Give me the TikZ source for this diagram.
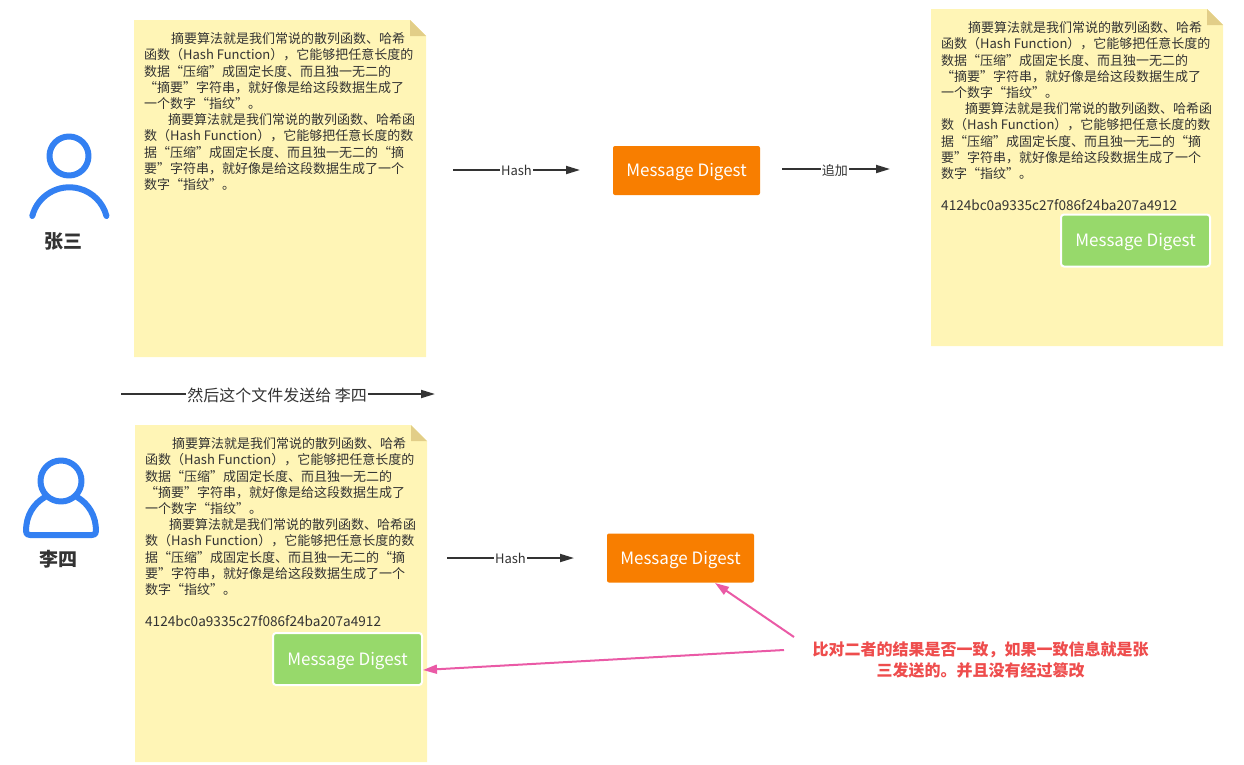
\documentclass[tikz,border=0pt]{standalone}
\usepackage{fontspec}
\setmainfont{Noto Sans CJK SC}
\usetikzlibrary{arrows.meta}
\definecolor{ink}{HTML}{333333}
\definecolor{paper}{HTML}{FFF5B6}
\definecolor{fold}{HTML}{E2CE88}
\definecolor{orangebox}{HTML}{F87E00}
\definecolor{greenbox}{HTML}{97D96B}
\definecolor{userblue}{HTML}{3380F2}
\definecolor{pinkline}{HTML}{EA5AA6}
\definecolor{redtext}{HTML}{EE4D4D}
\newcommand{\digesttext}{\hspace*{27pt}摘要算法就是我们常说的散列函数、哈希\\
函数（Hash Function），它能够把任意长度的\\
数据“压缩”成固定长度、而且独一无二的\\
“摘要”字符串，就好像是给这段数据生成了\\
一个数字“指纹”。\\
\hspace*{24pt}摘要算法就是我们常说的散列函数、哈希函\\
数（Hash Function），它能够把任意长度的数\\
据“压缩”成固定长度、而且独一无二的“摘\\
要”字符串，就好像是给这段数据生成了一个\\
数字“指纹”。}
\newcommand{\hashtext}{{\fontsize{13.6}{16.2}\selectfont 4124bc0a9335c27f086f24ba207a4912}}
\newcommand{\paperat}[2]{%
  \fill[paper] (#1,#2) -- ++(276,0) -- ++(16,16) -- ++(0,321) -- ++(-292,0) -- cycle;
  \fill[fold] (#1+276,#2) -- ++(16,16) -- ++(-16,0) -- cycle;}
\tikzset{
  notetext/.style={anchor=north west,inner sep=0pt,align=left,text=ink,font=\fontsize{13}{16.2}\selectfont},
  digestfont/.style={font=\fontsize{17}{20}\selectfont},
  orangedigest/.style={digestfont,fill=orangebox,text=white,rounded corners=2pt,minimum width=147pt,minimum height=49pt,inner sep=0pt,text depth=3pt,text height=15pt},
  greendigest/.style={digestfont,draw=white,line width=2pt,fill=greenbox,text=white,rounded corners=3pt,minimum width=149pt,minimum height=52pt,inner sep=0pt,text depth=3pt,text height=15pt},
  flow/.style={draw=ink,line width=1.8pt,-{Triangle[length=14pt,width=8pt]}},
  pinkflow/.style={draw=pinkline,line width=2pt,-{Triangle[length=14pt,width=9pt]}},
  flowlabel/.style={fill=white,inner sep=1pt,text=ink,font=\fontsize{13}{15}\selectfont},
  username/.style={text=ink,font=\fontsize{19}{21}\bfseries\selectfont},
  usericon/.style={draw=userblue,line width=6pt,line cap=round,line join=round},
}
\begin{document}
\begin{tikzpicture}[x=1pt,y=-1pt]
\useasboundingbox (0,0) rectangle (1244,764);
% papers
\paperat{134}{20}
\paperat{931}{9}
\paperat{135}{425}
\node[notetext] (t1) at (144,32.5) {\digesttext};
\node[notetext] (t2) at (941,21.5) {\digesttext\\ \\\hashtext};
\node[notetext] (t3) at (145,437.5) {\digesttext\\ \\\hashtext};
% digest boxes
\node[orangedigest] (d1) at (686.5,170.5) {Message Digest};
\node[orangedigest] (d3) at (680.5,558) {Message Digest};
\node[greendigest] (g2) at (1135.5,240.5) {Message Digest};
\node[greendigest] (g3) at (347.5,659) {Message Digest};
% user icons
\draw[usericon] (69,156) circle[radius=19.5];
\draw[usericon] (32.3,216) arc[start angle=194.5,end angle=345.5,radius=38.3];
\node[username] (u1) at (63,241.5) {张三};
\draw[usericon] (61,481) circle[radius=20.5];
\draw[usericon] (45,497) .. controls (33,504) and (26,516) .. (26,531) .. controls (26,534) and (27,535) .. (30,535) -- (92,535) .. controls (95,535) and (96,534) .. (96,531) .. controls (96,516) and (89,504) .. (77,497);
\node[username] (u2) at (58,559) {李四};
% flow connectors
\coordinate (a1s) at (453,170);\coordinate (a1e) at (580,170);
\coordinate (a2s) at (782,169);\coordinate (a2e) at (890,169);
\coordinate (a3s) at (121,394);\coordinate (a3e) at (435,394);
\coordinate (a4s) at (447,558);\coordinate (a4e) at (574,558);
\draw[flow] (a1s) -- node[flowlabel,yshift=-0.5pt] (l1) {Hash} (a1e);
\draw[flow] (a2s) -- node[flowlabel,pos=.49,yshift=-1.5pt] (l2) {追加} (a2e);
\draw[flow] (a3s) -- node[flowlabel,pos=.497,yshift=-1.5pt,font=\fontsize{16}{18}\selectfont] (l3) {然后这个文件发送给 李四} (a3e);
\draw[flow] (a4s) -- node[flowlabel,yshift=-0.5pt] (l4) {Hash} (a4e);
% comparison note
\node[align=center,text=redtext,font=\fontsize{16}{21}\bfseries\selectfont] (cmp) at (980.5,659.5) {比对二者的结果是否一致，如果一致信息就是张\\三发送的。并且没有经过篡改};
\coordinate (p1s) at (794,637);\coordinate (p1e) at (715,583);
\coordinate (p2s) at (784,650);\coordinate (p2e) at (423,670);
\draw[pinkflow] (p1s) -- (p1e);
\draw[pinkflow] (p2s) -- (p2e);
\end{tikzpicture}
\end{document}
